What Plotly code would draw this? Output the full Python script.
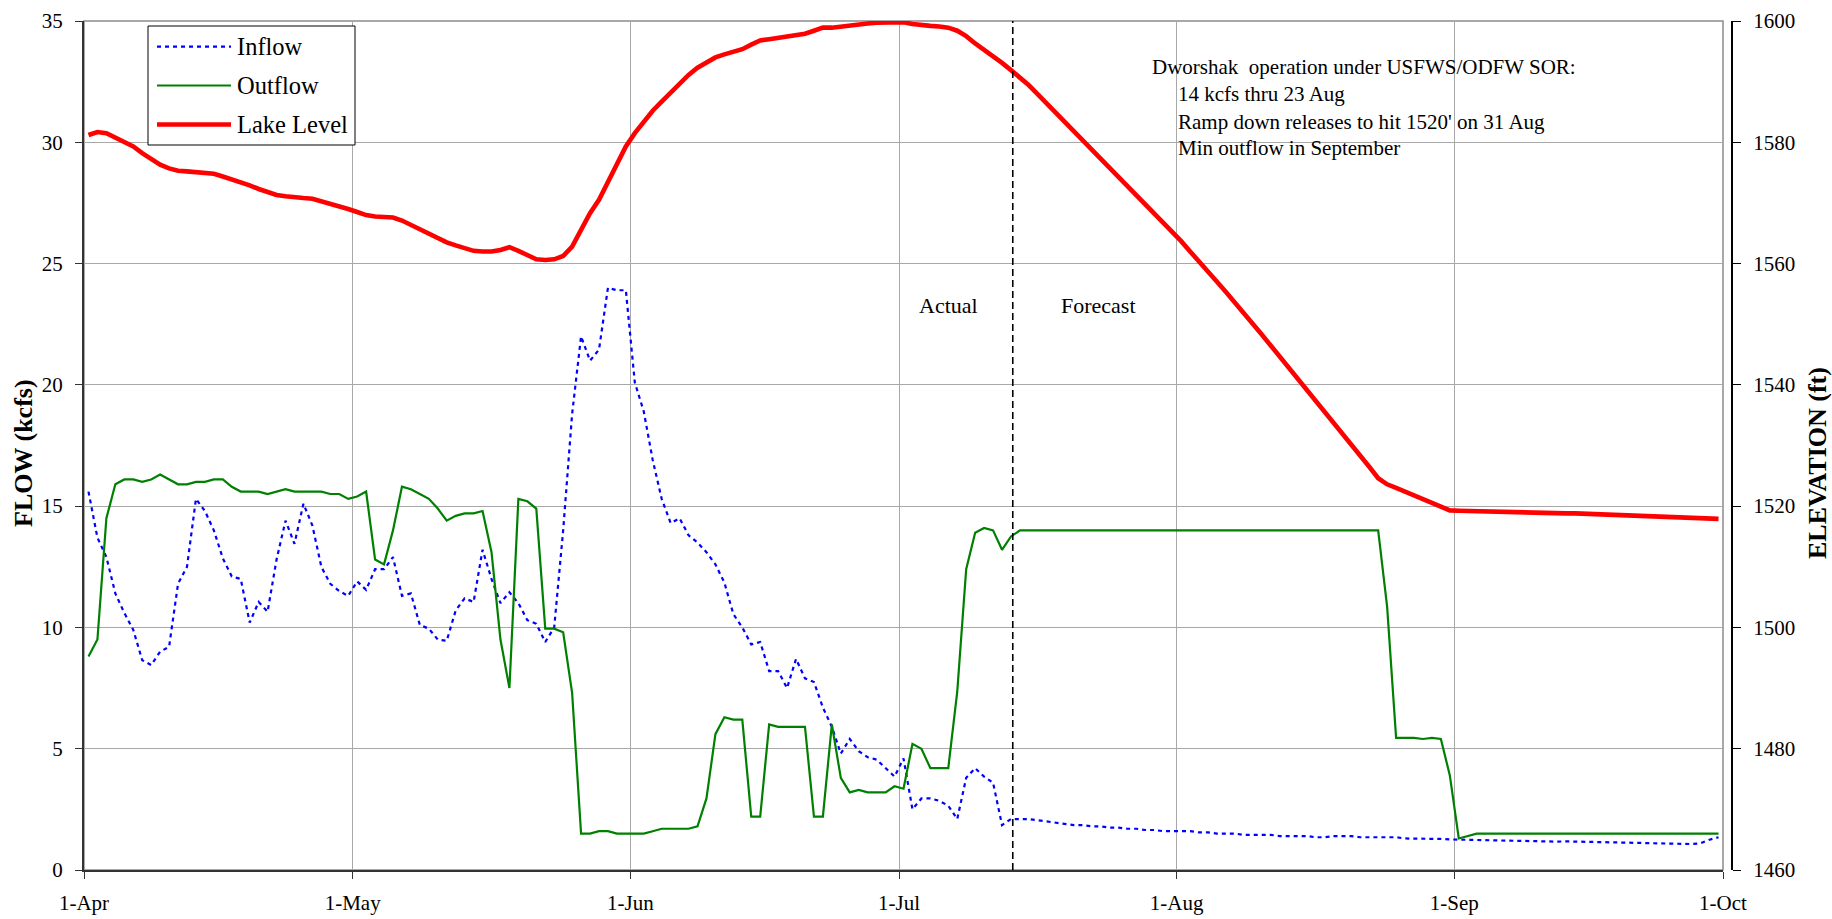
import pandas as pd
import plotly.graph_objects as go

# ---------------------------------------------------------------------------
# Daily values, 1 Apr - 30 Sep (183 days)
# ---------------------------------------------------------------------------
season_start = "2010-04-01"
season_end = "2010-10-01"
forecast_start = "2010-07-13 16:48"

month_labels = ["1-Apr", "1-May", "1-Jun", "1-Jul", "1-Aug", "1-Sep", "1-Oct"]
month_ticks = ["2010-04-01", "2010-05-01", "2010-06-01", "2010-07-01",
               "2010-08-01", "2010-09-01", "2010-10-01"]

# Inflow (kcfs), observed 1 Apr - 14 Jul
inflow_actual = [
    15.6, 13.7, 12.9, 11.4, 10.6, 9.9, 8.65, 8.45, 9.0, 9.2,
    11.8, 12.5, 15.3, 14.8, 14.0, 12.85, 12.1, 12.0, 10.2, 11.05,
    10.65, 12.8, 14.4, 13.45, 15.1, 14.2, 12.5, 11.8, 11.5, 11.3,
    11.9, 11.55, 12.4, 12.4, 12.9, 11.3, 11.4, 10.1, 9.95, 9.5,
    9.45, 10.7, 11.2, 11.05, 13.2, 12.0, 11.0, 11.45, 11.0, 10.3,
    10.15, 9.4, 10.0, 14.0, 18.8, 22.0, 21.0, 21.45, 24.0, 23.9,
    23.9, 20.1, 18.9, 16.9, 15.3, 14.3, 14.5, 13.8, 13.5, 13.1,
    12.6, 11.85, 10.55, 10.0, 9.3, 9.4, 8.2, 8.2, 7.5, 8.7,
    7.9, 7.75, 6.7, 5.9, 4.8, 5.4, 4.9, 4.65, 4.55, 4.2,
    3.85, 4.6, 2.5, 2.95, 2.95, 2.85, 2.65, 2.1, 3.8, 4.2,
    3.85, 3.6, 1.85, 2.1, 2.1,
]
# Inflow (kcfs), forecast 15 Jul - 30 Sep
inflow_forecast = [
    2.1, 2.05, 2.0, 1.95, 1.9, 1.85, 1.85, 1.8, 1.8, 1.75,
    1.75, 1.7, 1.7, 1.65, 1.65, 1.6, 1.6, 1.6, 1.6, 1.55,
    1.55, 1.5, 1.5, 1.5, 1.45, 1.45, 1.45, 1.45, 1.4, 1.4,
    1.4, 1.4, 1.35, 1.35, 1.4, 1.4, 1.4, 1.35, 1.35, 1.35,
    1.35, 1.35, 1.3, 1.3, 1.3, 1.3, 1.28, 1.26, 1.25, 1.25,
    1.25, 1.24, 1.23, 1.22, 1.2, 1.2, 1.2, 1.18, 1.17, 1.17,
    1.18, 1.17, 1.17, 1.16, 1.15, 1.15, 1.14, 1.13, 1.12, 1.1,
    1.1, 1.1, 1.09, 1.08, 1.07, 1.1, 1.25, 1.35,
]

# Outflow (kcfs)
outflow = [
    8.8, 9.5, 14.5, 15.9, 16.1, 16.1, 16.0, 16.1, 16.3, 16.1,
    15.9, 15.9, 16.0, 16.0, 16.1, 16.1, 15.8, 15.6, 15.6, 15.6,
    15.5, 15.6, 15.7, 15.6, 15.6, 15.6, 15.6, 15.5, 15.5, 15.3,
    15.4, 15.6, 12.8, 12.6, 14.0, 15.8, 15.7, 15.5, 15.3, 14.9,
    14.4, 14.6, 14.7, 14.7, 14.8, 13.1, 9.5, 7.5, 15.3, 15.2,
    14.9, 9.95, 9.95, 9.8, 7.3, 1.5, 1.5, 1.6, 1.6, 1.5,
    1.5, 1.5, 1.5, 1.6, 1.7, 1.7, 1.7, 1.7, 1.8, 2.95,
    5.6, 6.3, 6.2, 6.2, 2.2, 2.2, 6.0, 5.9, 5.9, 5.9,
    5.9, 2.2, 2.2, 6.0, 3.8, 3.2, 3.3, 3.2, 3.2, 3.2,
    3.45, 3.35, 5.2, 5.0, 4.2, 4.2, 4.2, 7.35, 12.4, 13.9,
    14.1, 14.0, 13.2, 13.75, 14.0, 14.0, 14.0, 14.0, 14.0, 14.0,
    14.0, 14.0, 14.0, 14.0, 14.0, 14.0, 14.0, 14.0, 14.0, 14.0,
    14.0, 14.0, 14.0, 14.0, 14.0, 14.0, 14.0, 14.0, 14.0, 14.0,
    14.0, 14.0, 14.0, 14.0, 14.0, 14.0, 14.0, 14.0, 14.0, 14.0,
    14.0, 14.0, 14.0, 14.0, 14.0, 10.85, 5.45, 5.45, 5.45, 5.4,
    5.45, 5.4, 3.9, 1.3, 1.4, 1.5, 1.5, 1.5, 1.5, 1.5,
    1.5, 1.5, 1.5, 1.5, 1.5, 1.5, 1.5, 1.5, 1.5, 1.5,
    1.5, 1.5, 1.5, 1.5, 1.5, 1.5, 1.5, 1.5, 1.5, 1.5,
    1.5, 1.5, 1.5,
]

# Lake level (ft)
lake_level = [
    1581.2, 1581.7, 1581.5, 1580.8, 1580.1, 1579.3, 1578.2, 1577.2, 1576.3, 1575.7,
    1575.3, 1575.2, 1575.1, 1575.0, 1574.8, 1574.35, 1573.9, 1573.5, 1572.9, 1572.3,
    1571.7, 1571.3, 1571.1, 1570.9, 1570.8, 1570.7, 1570.3, 1569.8, 1569.4, 1569.0,
    1568.5, 1568.0, 1567.75, 1567.75, 1567.6, 1567.1, 1566.4, 1565.7, 1564.9, 1564.1,
    1563.5, 1563.0, 1562.5, 1562.1, 1562.0, 1562.0, 1562.25, 1562.7, 1562.1, 1561.4,
    1560.7, 1560.6, 1560.7, 1561.25, 1562.8, 1565.55, 1568.3, 1570.5, 1573.5, 1576.55,
    1579.3, 1581.5, 1583.4, 1585.2, 1586.7, 1588.2, 1589.7, 1591.1, 1592.3, 1593.25,
    1594.0, 1594.5, 1595.0, 1595.35, 1596.1, 1596.8, 1597.0, 1597.2, 1597.4, 1597.65,
    1597.9, 1598.4, 1598.9, 1598.9, 1599.1, 1599.3, 1599.5, 1599.6, 1599.7, 1599.7,
    1599.8, 1599.8, 1599.5, 1599.3, 1599.2, 1599.1, 1598.9, 1598.4, 1597.5, 1596.3,
    1595.3, 1594.2, 1593.1, 1591.9, 1590.7, 1589.4, 1587.9, 1586.4, 1584.9, 1583.4,
    1581.9, 1580.4, 1578.9, 1577.4, 1575.9, 1574.4, 1572.9, 1571.4, 1569.9, 1568.4,
    1566.8, 1565.3, 1563.7, 1562.0, 1560.4, 1558.7, 1557.0, 1555.3, 1553.6, 1551.9,
    1550.1, 1548.3, 1546.5, 1544.7, 1542.9, 1541.1, 1539.3, 1537.5, 1535.7, 1533.9,
    1532.1, 1530.3, 1528.4, 1526.5, 1524.6, 1523.6, 1523.0, 1522.4, 1521.8, 1521.2,
    1520.5, 1519.9, 1519.3, 1519.25, 1519.2, 1519.2, 1519.15, 1519.15, 1519.1, 1519.05,
    1519.0, 1519.0, 1518.95, 1518.9, 1518.85, 1518.8, 1518.8, 1518.75, 1518.7, 1518.65,
    1518.6, 1518.55, 1518.5, 1518.45, 1518.4, 1518.35, 1518.3, 1518.2, 1518.1, 1518.05,
    1518.0, 1517.95, 1517.9,
]

inflow = inflow_actual + inflow_forecast
# each daily value is plotted at the middle of its day
days = pd.date_range(season_start + " 12:00", periods=len(lake_level), freq="D")

# ---------------------------------------------------------------------------
# Page geometry (pixels) and conversion to paper coordinates
# ---------------------------------------------------------------------------
W, H = 1832, 919
LEFT, TOP, BOTTOM = 84, 21, 870
PLOT_RIGHT, RAXIS = 1723, 1732
PW, PH = RAXIS - LEFT, BOTTOM - TOP


def px(x):
    return (x - LEFT) / PW


def py(y):
    return (BOTTOM - y) / PH


SERIF = "Liberation Serif, Times New Roman, serif"
GRID = "#a8a8a8"

fig = go.Figure()

fig.add_trace(go.Scatter(
    x=days, y=inflow, name="Inflow", mode="lines",
    line=dict(color="#0000ff", width=2.2, dash="4px,4px"),
    showlegend=False, yaxis="y"))
fig.add_trace(go.Scatter(
    x=days, y=outflow, name="Outflow", mode="lines",
    line=dict(color="#008000", width=2.2),
    showlegend=False, yaxis="y"))
fig.add_trace(go.Scatter(
    x=days, y=lake_level, name="Lake Level", mode="lines",
    line=dict(color="#ff0000", width=4.6),
    showlegend=False, yaxis="y2"))

tick_font = dict(family=SERIF, size=21, color="black")

fig.update_layout(
    template="none",
    width=W, height=H,
    margin=dict(l=LEFT, r=W - RAXIS, t=TOP, b=H - BOTTOM, pad=0, autoexpand=False),
    paper_bgcolor="white", plot_bgcolor="white",
    font=dict(family=SERIF, color="black"),
    showlegend=False,
    xaxis=dict(
        type="date", domain=[0, px(PLOT_RIGHT)],
        range=[season_start, season_end],
        tickmode="array", tickvals=month_ticks, ticktext=month_labels,
        ticks="outside", ticklen=7, tickwidth=1, tickcolor="#333",
        showline=True, linecolor="#333", linewidth=2,
        showgrid=True, gridcolor=GRID, gridwidth=1,
        zeroline=False, tickfont=tick_font, ticklabelstandoff=6,
        anchor="y", automargin=False,
    ),
    yaxis=dict(
        range=[0, 35], dtick=5, tick0=0,
        ticks="outside", ticklen=7, tickwidth=1, tickcolor="#333",
        showline=True, linecolor="#333", linewidth=2,
        showgrid=True, gridcolor=GRID, gridwidth=1,
        zeroline=False, tickfont=tick_font, ticklabelstandoff=8,
        automargin=False,
    ),
    yaxis2=dict(
        range=[1460, 1600], dtick=20, tick0=1460,
        overlaying="y", side="right", anchor="free", position=1.0,
        ticks="outside", ticklen=8, tickwidth=1, tickcolor="black",
        showline=True, linecolor="black", linewidth=2,
        showgrid=False, zeroline=False, tickfont=tick_font,
        ticklabelstandoff=8, automargin=False,
    ),
)

shapes = []
# plot-area frame
shapes.append(dict(type="rect", xref="paper", yref="paper",
                   x0=0, x1=px(PLOT_RIGHT), y0=0, y1=1,
                   line=dict(color="#8c8c8c", width=1.5), layer="between"))
# white panels behind the text blocks
shapes.append(dict(type="rect", xref="paper", yref="paper",
                   x0=px(1144), x1=px(1699), y0=py(183), y1=py(50),
                   fillcolor="white", line=dict(width=0), layer="between"))
shapes.append(dict(type="rect", xref="paper", yref="paper",
                   x0=px(893), x1=px(1005), y0=py(332), y1=py(287),
                   fillcolor="white", line=dict(width=0), layer="between"))
# actual / forecast divider
shapes.append(dict(type="line", xref="x", yref="paper",
                   x0=forecast_start, x1=forecast_start, y0=0, y1=1,
                   line=dict(color="black", width=1.6, dash="7px,4px")))
# legend box and samples
shapes.append(dict(type="rect", xref="paper", yref="paper",
                   x0=px(148), x1=px(355), y0=py(145), y1=py(26),
                   fillcolor="white", line=dict(color="black", width=1)))
legend_rows = [
    ("Inflow", 46.7, dict(color="#0000ff", width=2.2, dash="4px,4px")),
    ("Outflow", 85.5, dict(color="#008000", width=2.2)),
    ("Lake Level", 124.5, dict(color="#ff0000", width=4.6)),
]
annotations = []
for label, yy, style in legend_rows:
    shapes.append(dict(type="line", xref="paper", yref="paper",
                       x0=px(157), x1=px(231), y0=py(yy), y1=py(yy),
                       line=style))
    annotations.append(dict(text=label, xref="paper", yref="paper",
                            x=px(235), y=py(yy), xanchor="left", yanchor="middle",
                            showarrow=False,
                            font=dict(family=SERIF, size=24.5, color="black")))

note_font = dict(family=SERIF, size=21, color="black")
note_lines = [
    ("Dworshak\u00a0\u00a0operation under USFWS/ODFW SOR:", 1150, 66.7),
    ("14 kcfs thru 23 Aug", 1176, 94.3),
    ("Ramp down releases to hit 1520' on 31 Aug", 1176, 121.7),
    ("Min outflow in September", 1176, 148.3),
]
for text, xx, yy in note_lines:
    annotations.append(dict(text=text, xref="paper", yref="paper",
                            x=px(xx), y=py(yy), xanchor="left", yanchor="middle",
                            showarrow=False, font=note_font))

for text, xx in [("Actual", 948.8), ("Forecast", 1098.3)]:
    annotations.append(dict(text=text, xref="paper", yref="paper",
                            x=px(xx), y=py(305), xanchor="center", yanchor="middle",
                            showarrow=False,
                            font=dict(family=SERIF, size=22, color="black")))

title_font = dict(family=SERIF, size=26, color="black")
annotations.append(dict(text="<b>FLOW (kcfs)</b>", xref="paper", yref="paper",
                        x=px(23), y=py(453), xanchor="center", yanchor="middle",
                        textangle=-90, showarrow=False, font=title_font))
annotations.append(dict(text="<b>ELEVATION (ft)</b>", xref="paper", yref="paper",
                        x=px(1818), y=py(463), xanchor="center", yanchor="middle",
                        textangle=-90, showarrow=False, font=title_font))

fig.update_layout(shapes=shapes, annotations=annotations)

fig.write_html("out.html")
